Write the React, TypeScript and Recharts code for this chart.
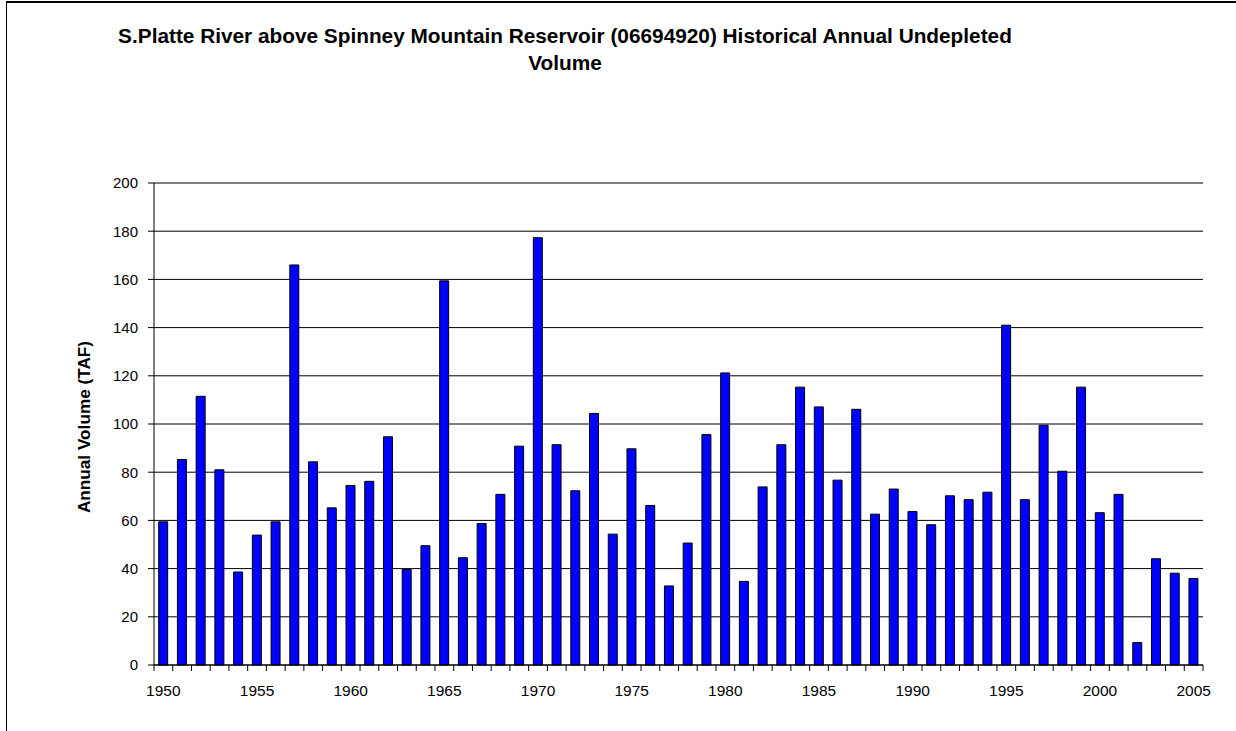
import React from 'react';
import { BarChart, Bar, XAxis, YAxis, CartesianGrid } from 'recharts';

const years = [
  1950, 1951, 1952, 1953, 1954, 1955, 1956, 1957, 1958, 1959,
  1960, 1961, 1962, 1963, 1964, 1965, 1966, 1967, 1968, 1969,
  1970, 1971, 1972, 1973, 1974, 1975, 1976, 1977, 1978, 1979,
  1980, 1981, 1982, 1983, 1984, 1985, 1986, 1987, 1988, 1989,
  1990, 1991, 1992, 1993, 1994, 1995, 1996, 1997, 1998, 1999,
  2000, 2001, 2002, 2003, 2004, 2005,
];

const volumes = [
  59.4, 85.3, 111.5, 81.0, 38.6, 53.9, 59.4, 166.0, 84.3, 65.2,
  74.5, 76.2, 94.7, 39.7, 49.5, 159.4, 44.5, 58.7, 70.8, 90.8,
  177.3, 91.4, 72.3, 104.4, 54.3, 89.7, 66.2, 32.8, 50.6, 95.6,
  121.2, 34.7, 73.9, 91.4, 115.3, 107.1, 76.7, 106.1, 62.6, 73.0,
  63.7, 58.2, 70.2, 68.6, 71.7, 141.0, 68.6, 99.5, 80.4, 115.3,
  63.2, 70.8, 9.3, 44.1, 38.1, 35.9,
];

const yTicks = [0, 20, 40, 60, 80, 100, 120, 140, 160, 180, 200];
const titleLines = [
  'S.Platte River above Spinney Mountain Reservoir (06694920) Historical Annual Undepleted',
  'Volume',
];
const yAxisTitle = 'Annual Volume (TAF)';

const data = years.map((year, i) => ({ year, volume: volumes[i] }));

const W = 1236;
const H = 731;
const MARGIN = { top: 183, right: 33, bottom: 16, left: 90 };
const Y_AXIS_W = 64;
const X_AXIS_H = 50;
const PLOT_W = W - MARGIN.left - Y_AXIS_W - MARGIN.right;
const STEP = PLOT_W / years.length;
const FONT = '"Liberation Sans", Arial, sans-serif';

const XTick = (props: any) => {
  const { x, y, payload, index } = props;
  const half = STEP / 2;
  const yr = Number(payload.value);
  return (
    <g>
      <line x1={x - half} x2={x - half} y1={y} y2={y + 6} stroke="#000" strokeWidth={1} />
      {index === years.length - 1 && (
        <line x1={x + half} x2={x + half} y1={y} y2={y + 6} stroke="#000" strokeWidth={1} />
      )}
      {yr % 5 === 0 && (
        <text x={x} y={y + 31} textAnchor="middle" fontSize={15.5} fill="#000" fontFamily={FONT}>
          {yr}
        </text>
      )}
    </g>
  );
};

const YLabel = (props: any) => {
  const vb = props.viewBox || { y: 183, height: 482 };
  const cy = vb.y + vb.height / 2 + 3;
  const x = 90;
  return (
    <text
      x={x}
      y={cy}
      transform={`rotate(-90, ${x}, ${cy})`}
      textAnchor="middle"
      fontSize={17.2}
      fontWeight="bold"
      fill="#000"
      fontFamily={FONT}
    >
      {yAxisTitle}
    </text>
  );
};

export default function App() {
  return (
    <div
      style={{
        position: 'absolute',
        left: 0,
        top: 0,
        width: W,
        height: H,
        overflow: 'hidden',
        background: '#fff',
        fontFamily: FONT,
      }}
    >
      <div
        style={{
          position: 'absolute',
          left: 6,
          top: 1,
          width: W,
          height: H + 20,
          borderLeft: '1px solid #000',
          borderTop: '2px solid #000',
        }}
      />
      {titleLines.map((line, i) => (
        <div
          key={i}
          style={{
            position: 'absolute',
            left: 0,
            width: 1130,
            top: 22 + i * 27,
            textAlign: 'center',
            fontSize: 20.8,
            lineHeight: '27px',
            fontWeight: 'bold',
            color: '#000',
            whiteSpace: 'nowrap',
          }}
        >
          {line}
        </div>
      ))}
      <div style={{ position: 'absolute', left: 0, top: 0 }}>
        <BarChart width={W} height={H} data={data} margin={MARGIN} barCategoryGap="25%">
          <CartesianGrid yAxisId="l" horizontal vertical={false} stroke="#000" strokeWidth={1} />
          <XAxis
            dataKey="year"
            interval={0}
            height={X_AXIS_H}
            tickSize={0}
            tickMargin={0}
            tickLine={false}
            tick={<XTick />}
            axisLine={{ stroke: '#000', strokeWidth: 1 }}
          />
          <YAxis
            yAxisId="l"
            domain={[0, 200]}
            ticks={yTicks}
            width={Y_AXIS_W}
            tickSize={6}
            tickMargin={10}
            tickLine={{ stroke: '#000' }}
            axisLine={{ stroke: '#000', strokeWidth: 1 }}
            tick={{ fill: '#000', fontSize: 15, fontFamily: FONT }}
            interval={0}
            label={{ content: <YLabel /> }}
          />
          <YAxis
            yAxisId="r"
            orientation="right"
            domain={[0, 200]}
            ticks={yTicks}
            width={0}
            tick={false}
            tickLine={false}
            axisLine={{ stroke: '#808080', strokeWidth: 1 }}
          />
          <Bar
            yAxisId="l"
            dataKey="volume"
            fill="#0000FF"
            stroke="#000"
            strokeWidth={1}
            isAnimationActive={false}
          />
        </BarChart>
      </div>
    </div>
  );
}
